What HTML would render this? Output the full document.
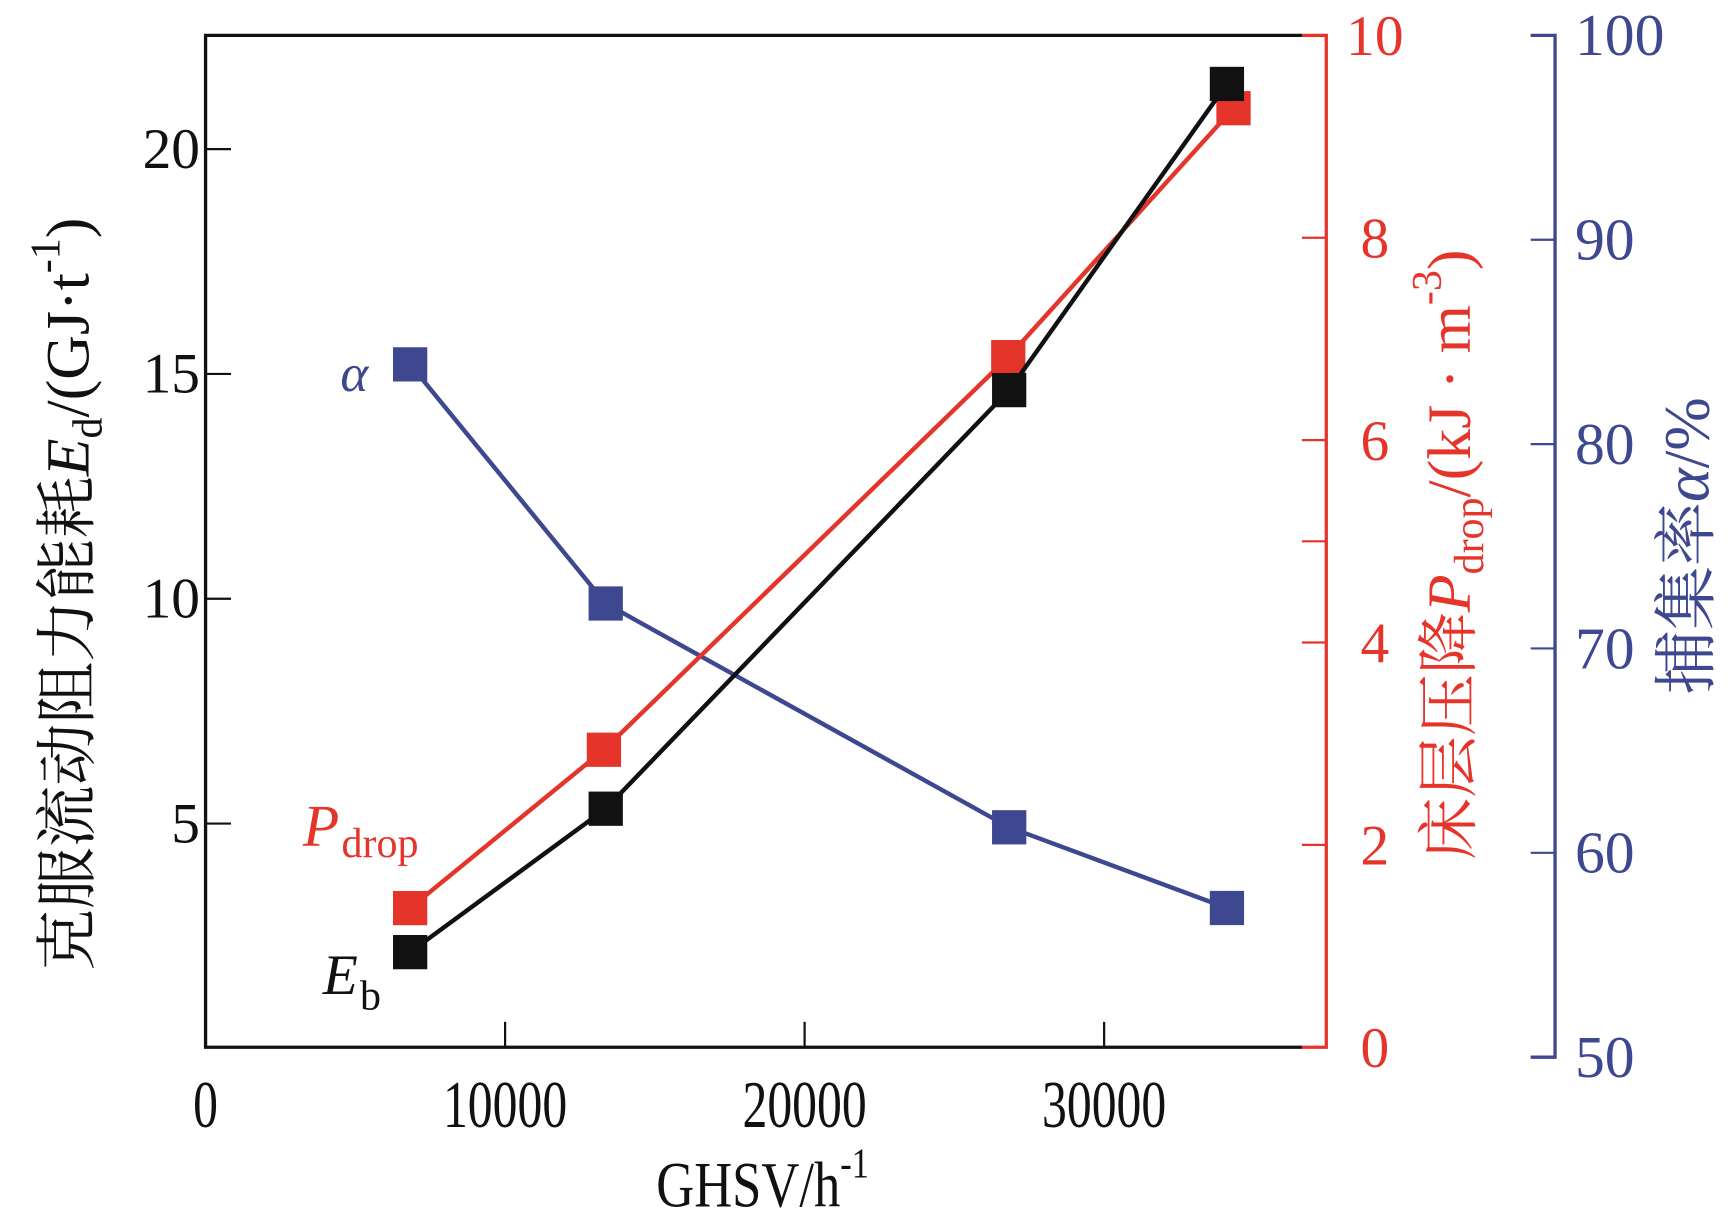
<!DOCTYPE html>
<html><head><meta charset="utf-8"><style>
html,body{margin:0;padding:0;background:#fff;}
svg{display:block;}
text{font-family:"Liberation Serif","Noto Serif CJK SC",serif;}
</style></head><body>
<svg id="chart" width="1733" height="1224" viewBox="0 0 1568 1108" preserveAspectRatio="none" xmlns="http://www.w3.org/2000/svg">
<g id="axes"></g>
<g id="series"></g>
<text x="308" y="354" font-size="48" font-style="italic" fill="#3d4891">α</text>
<text x="274" y="766" font-size="54" font-style="italic" fill="#e5352b">P<tspan font-style="normal" font-size="38" dy="10" dx="2">drop</tspan></text>
<text x="292" y="900" font-size="52" font-style="italic" fill="#111">E<tspan font-style="normal" font-size="38" dy="14" dx="2">b</tspan></text>
<text x="690" y="1092" font-size="58" text-anchor="middle" fill="#111" transform="translate(690,0) scale(0.82,1) translate(-690,0)">GHSV/h<tspan font-size="38" dy="-26">-1</tspan></text>
<text transform="translate(80,538) rotate(-90)" font-size="56" text-anchor="middle" fill="#111">克服流动阻力能耗<tspan font-style="italic">E</tspan><tspan font-size="38" dy="12">d</tspan><tspan dy="-12">/(GJ·t</tspan><tspan font-size="38" dy="-26">-1</tspan><tspan dy="26">)</tspan></text>
<text transform="translate(1330,502) rotate(-90)" font-size="56" text-anchor="middle" fill="#e5352b">床层压降<tspan font-style="italic">P</tspan><tspan font-size="38" dy="12">drop</tspan><tspan dy="-12">/(kJ · m</tspan><tspan font-size="38" dy="-26">-3</tspan><tspan dy="26">)</tspan></text>
<text transform="translate(1546,494) rotate(-90)" font-size="58" text-anchor="middle" fill="#3d4891">捕集率<tspan font-style="italic">α</tspan>/%</text>
</svg>
<script>
const xVals = [6830, 13360, 26830, 34100];
const xValsRed = [6830, 13300, 26800, 34320];
const ebValues = [2.14, 5.33, 14.64, 21.45];
const pdropValues = [1.375, 2.94, 6.82, 9.28];
const alphaValues = [83.9, 72.2, 61.25, 57.3];
const xTicks = [0, 10000, 20000, 30000];
const leftTicks = [5, 10, 15, 20];
const redTicks = [0, 2, 4, 6, 8, 10];
const redTickMarks = [2, 4, 5, 6, 8];
const blueTicks = [50, 60, 70, 80, 90, 100];

const NS = "http://www.w3.org/2000/svg";
const X0 = 186, XPER = 0.0271;
const xs = v => X0 + v * XPER;
const yl = v => 949 - v * 40.7;
const yr = v => 948 - v * 91.6;
const yb = v => 957 - (v - 50) * 18.5;
const axes = document.getElementById('axes');
const series = document.getElementById('series');
function mk(tag, attrs, parent) {
  const e = document.createElementNS(NS, tag);
  for (const k in attrs) e.setAttribute(k, attrs[k]);
  parent.appendChild(e); return e;
}
const frame = mk('path', {d:`M1178 32 H186 V948 H1178`, fill:'none', stroke:'#111', 'stroke-width':3}, axes);


const redAxis = mk('path', {d:`M1178 32 H1200 V948 H1178`, fill:'none', stroke:'#e5352b', 'stroke-width':3}, axes);


const blueAxis = mk('path', {d:`M1385 32 H1407 V957 H1385`, fill:'none', stroke:'#3d4891', 'stroke-width':3}, axes);



xTicks.forEach(v => {
  const x = xs(v);
  if (v > 0) {
    const t = mk('line', {x1:x, x2:x, y1:948, y2:925, stroke:'#111', 'stroke-width':2}, axes);
    
    
  }
  const l = mk('text', {x:0, y:0, 'font-size':60, 'text-anchor':'middle', fill:'#111', transform:`translate(${x},1020) scale(0.75,1)`}, axes);
  l.textContent = String(v);
  
  
});
leftTicks.forEach(v => {
  const y = yl(v);
  const t = mk('line', {x1:186, x2:209, y1:y, y2:y, stroke:'#111', 'stroke-width':2}, axes);
  
  
  const l = mk('text', {x:181, y:y+17, 'font-size':52, 'text-anchor':'end', fill:'#111'}, axes);
  l.textContent = String(v);
  
  
});
redTickMarks.forEach(v => {
  const y = yr(v);
  const t = mk('line', {x1:1178, x2:1200, y1:y, y2:y, stroke:'#e5352b', 'stroke-width':2}, axes);
  
  
});
redTicks.forEach(v => {
  const y = yr(v);
  const l = mk('text', {x:1244, y:y+18, 'font-size':52, 'text-anchor':'middle', fill:'#e5352b'}, axes);
  l.textContent = String(v);
  
  
});
blueTicks.forEach(v => {
  const y = yb(v);
  const t = mk('line', {x1:1385, x2:1407, y1:y, y2:y, stroke:'#3d4891', 'stroke-width':2}, axes);
  
  
  const l = mk('text', {x:1425, y:y+18, 'font-size':54, 'text-anchor':'start', fill:'#3d4891'}, axes);
  l.textContent = String(v);
  
  
});

function drawSeries(xv, yv, yf, color, name) {
  const pts = xv.map((x, i) => [xs(x), yf(yv[i])]);
  const line = mk('polyline', {points: pts.map(p => p.join(',')).join(' '), fill:'none', stroke:color, 'stroke-width':4}, series);
  
  
  pts.forEach(p => {
    const r = mk('rect', {x:p[0]-15.5, y:p[1]-15.5, width:31, height:31, fill:color}, series);
    
    
  });
}
drawSeries(xVals, alphaValues, yb, '#3d4891', 'alpha');
drawSeries(xValsRed, pdropValues, yr, '#e5352b', 'pdrop');
drawSeries(xVals, ebValues, yl, '#111', 'eb');
</script>
</body></html>
